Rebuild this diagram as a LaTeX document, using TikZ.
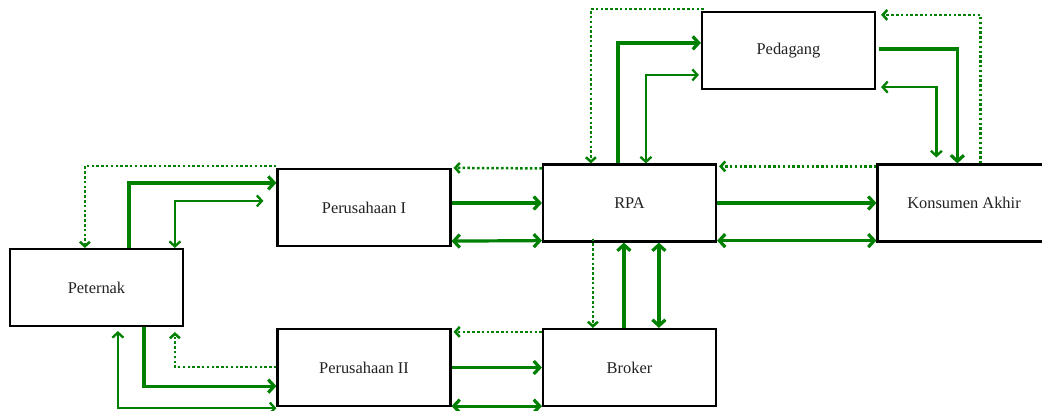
\documentclass[tikz,border=0pt]{standalone}
\usepackage{fontspec}
\setmainfont{Liberation Serif}
\usetikzlibrary{arrows.meta}
\definecolor{flowgreen}{RGB}{0,128,0}
\definecolor{boxtext}{RGB}{34,34,34}

\begin{document}
\begin{tikzpicture}[x=1pt, y=-1pt,
    box/.style={draw=black, line width=2.2pt, fill=white, minimum width=173pt,
        minimum height=77pt, inner sep=0pt, text=boxtext, font=\fontsize{16.4}{20}\selectfont},
    flow/.style={draw=flowgreen, line width=3.2pt,
        >={Straight Barb[length=6pt, width=13pt]}},
    thinflow/.style={draw=flowgreen, line width=2.3pt,
        >={Straight Barb[length=5pt, width=11pt]}},
    dotflow/.style={draw=flowgreen, line width=2.5pt, dash pattern=on 2.5pt off 2.3pt,
        >={Straight Barb[length=4.5pt, width=10pt]}}]
    \clip (0,0) rectangle (1042,410);

    \node[box] (peternak) at (96.5,287.5) {Peternak};
    \node[box] (pers1) at (364,207.5) {Perusahaan I};
    \node[box] (pers2) at (364,367.5) {Perusahaan II};
    \node[box] (rpa) at (629.5,203) {RPA};
    \node[box] (broker) at (629.5,367.5) {Broker};
    \node[box] (pedagang) at (788.5,50.5) {Pedagang};
    \node[box] (konsumen) at (964,203) {Konsumen Akhir};

    % Peternak - Perusahaan I
    \draw[dotflow,->] ([yshift=2pt]pers1.north west) -| ([xshift=76pt]peternak.north west);
    \draw[flow,->] ([xshift=120pt]peternak.north west) |- ([yshift=-15pt]pers1.north west);
    \draw[thinflow,<->] ([xshift=166pt]peternak.north west) |- ([xshift=-13pt,yshift=-33pt]pers1.north west);

    % Peternak - Perusahaan II
    \draw[dotflow,->] ([yshift=40pt]pers2.south west) -| ([xshift=166pt,yshift=-5pt]peternak.south west);
    \draw[flow,->] ([xshift=135pt]peternak.south west) |- ([yshift=21pt]pers2.south west);
    \draw[thinflow,<->] ([xshift=109pt,yshift=-4pt]peternak.south west) |- ([yshift=-1pt]pers2.south west);

    % Perusahaan I - RPA
    \draw[dotflow,->] ([yshift=-5pt]rpa.north west) -- ([xshift=2pt]pers1.north east);
    \draw[flow,->] ([yshift=4.5pt]pers1.east) -- (rpa.west);
    \draw[flow,<->] ([yshift=6pt]pers1.south east) -- ([yshift=2pt]rpa.south west);

    % Perusahaan II - Broker
    \draw[dotflow,->] ([yshift=-4pt]broker.north west) -- ([xshift=2pt,yshift=-4pt]pers2.north east);
    \draw[flow,->] (pers2.east) -- (broker.west);
    \draw[flow,<->] ([yshift=1pt]pers2.south east) -- ([yshift=1pt]broker.south west);

    % RPA - Broker
    \draw[dotflow,->] ([xshift=51pt,yshift=4pt]rpa.south west) -- ([xshift=51pt]broker.north west);
    \draw[flow,->] ([xshift=82pt]broker.north west) -- ([xshift=82pt]rpa.south west);
    \draw[flow,<->] ([xshift=117pt]rpa.south west) -- ([xshift=117pt]broker.north west);

    % RPA - Konsumen Akhir
    \draw[dotflow,->] ([yshift=-3pt]konsumen.north west) -- ([xshift=2pt,yshift=-3pt]rpa.north east);
    \draw[flow,->] (rpa.east) -- (konsumen.west);
    \draw[flow,<->] ([yshift=2pt]rpa.south east) -- ([yshift=2pt]konsumen.south west);

    % RPA - Pedagang
    \draw[dotflow,->] ([xshift=3pt,yshift=2pt]pedagang.north west) -| ([xshift=49pt]rpa.north west);
    \draw[flow,->] ([xshift=76pt]rpa.north west) |- ([yshift=-32pt]pedagang.north west);
    \draw[thinflow,<->] ([xshift=104pt]rpa.north west) |- ([xshift=-2pt,yshift=-64pt]pedagang.north west);

    % Pedagang - Konsumen Akhir
    \draw[flow,->] ([xshift=3pt,yshift=-38pt]pedagang.north east) -| ([xshift=81pt]konsumen.north west);
    \draw[thinflow,<->] ([xshift=5pt,yshift=3pt]pedagang.south east) -| ([xshift=60pt,yshift=6pt]konsumen.north west);
    \draw[dotflow,->] ([xshift=104pt]konsumen.north west) |- ([xshift=5pt,yshift=-4pt]pedagang.north east);
\end{tikzpicture}
\end{document}
